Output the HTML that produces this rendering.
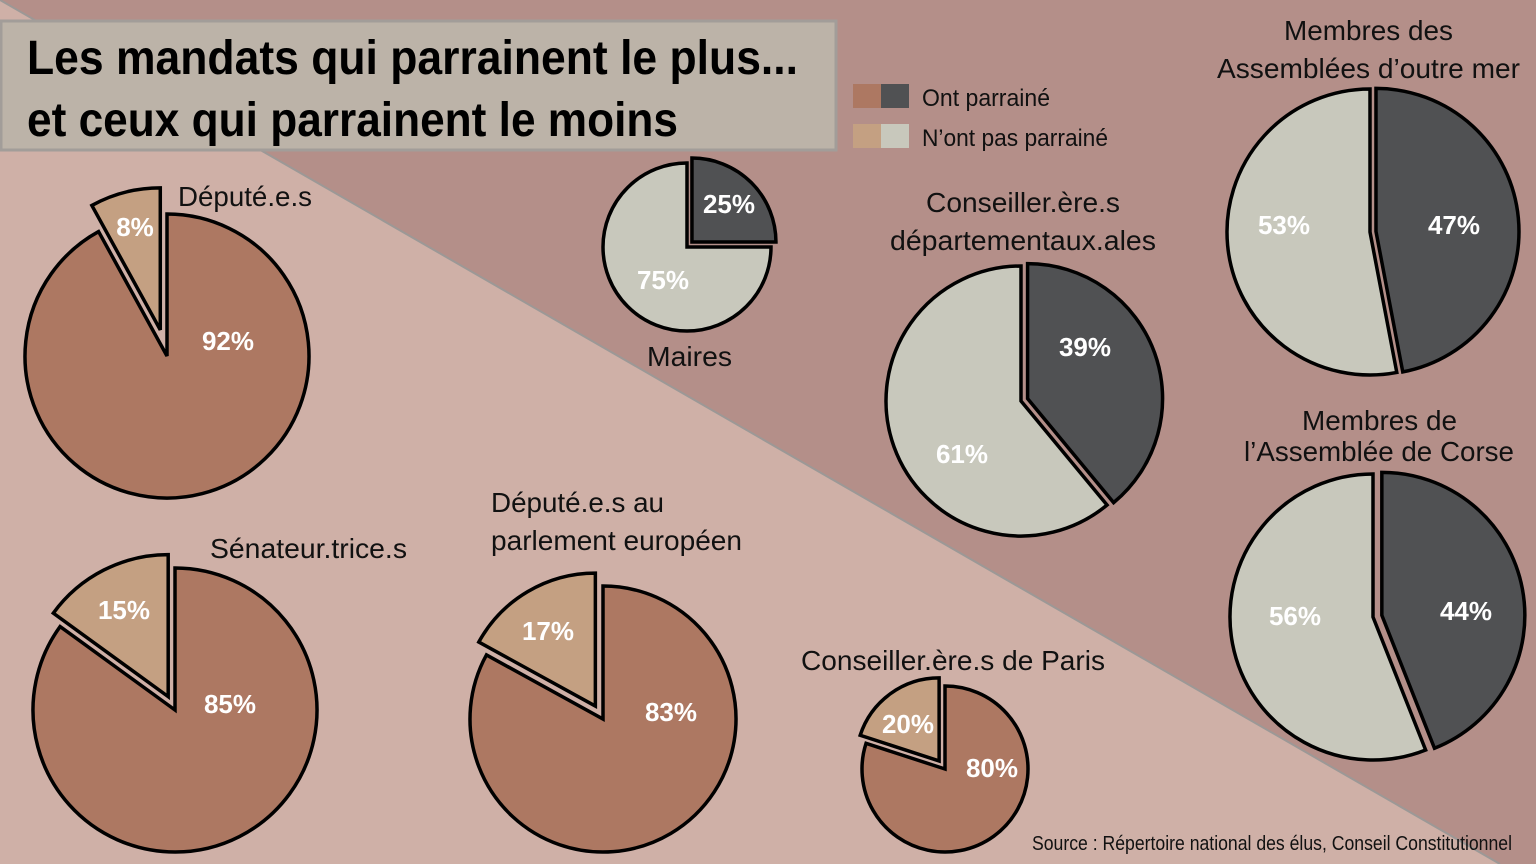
<!DOCTYPE html>
<html><head><meta charset="utf-8"><style>
html,body{margin:0;padding:0;background:#cfb0a7;}
body{width:1536px;height:864px;overflow:hidden;}
svg{display:block;}
svg text{font-family:"Liberation Sans Narrow","Liberation Sans",sans-serif;}
</style></head><body>
<svg id="s" width="1536" height="864" xmlns="http://www.w3.org/2000/svg">
<rect width="1536" height="864" fill="#cfb0a7"/>
<polygon points="0,0 1536,0 1536,864 1500,864" fill="#b48f89"/>
<line x1="0" y1="0" x2="1500" y2="864" stroke="#9c9896" stroke-width="2"/>
<rect x="1" y="21" width="835" height="129" fill="#bcb3a8" stroke="#a29d99" stroke-width="3"/>
<text x="27" y="74" font-size="48" font-weight="bold" fill="#000" textLength="771" lengthAdjust="spacingAndGlyphs">Les mandats qui parrainent le plus...</text>
<text x="27" y="136" font-size="48" font-weight="bold" fill="#000" textLength="651" lengthAdjust="spacingAndGlyphs">et ceux qui parrainent le moins</text>
<rect x="853" y="84" width="28" height="24" fill="#ad7862"/><rect x="881" y="84" width="28" height="24" fill="#505153"/>
<rect x="853" y="124" width="28" height="24" fill="#c4a082"/><rect x="881" y="124" width="28" height="24" fill="#c8c8bc"/>
<text x="922" y="106" font-size="24" fill="#111" textLength="128" lengthAdjust="spacingAndGlyphs">Ont parrainé</text>
<text x="922" y="146" font-size="24" fill="#111" textLength="186" lengthAdjust="spacingAndGlyphs">N’ont pas parrainé</text>
<g id="pies" stroke="#000" stroke-width="3.5"></g>
<g font-size="28" fill="#111">
<text x="178" y="206" textLength="134" lengthAdjust="spacingAndGlyphs">Député.e.s</text>
<text x="210" y="558" textLength="197" lengthAdjust="spacingAndGlyphs">Sénateur.trice.s</text>
<text x="491" y="512" textLength="173" lengthAdjust="spacingAndGlyphs">Député.e.s au</text>
<text x="491" y="550" textLength="251" lengthAdjust="spacingAndGlyphs">parlement européen</text>
<text x="801" y="670" textLength="304" lengthAdjust="spacingAndGlyphs">Conseiller.ère.s de Paris</text>
<text x="647" y="366" textLength="85" lengthAdjust="spacingAndGlyphs">Maires</text>
<text x="926" y="212" textLength="194" lengthAdjust="spacingAndGlyphs">Conseiller.ère.s</text>
<text x="890" y="250" textLength="266" lengthAdjust="spacingAndGlyphs">départementaux.ales</text>
<text x="1284" y="40" textLength="169" lengthAdjust="spacingAndGlyphs">Membres des</text>
<text x="1217" y="78" textLength="303" lengthAdjust="spacingAndGlyphs">Assemblées d’outre mer</text>
<text x="1302" y="430" textLength="155" lengthAdjust="spacingAndGlyphs">Membres de</text>
<text x="1244" y="461" textLength="270" lengthAdjust="spacingAndGlyphs">l’Assemblée de Corse</text>
</g>
<g font-size="26" font-weight="bold" fill="#fff" text-anchor="middle">
<text x="135" y="236">8%</text><text x="228" y="350">92%</text>
<text x="124" y="619">15%</text><text x="230" y="713">85%</text>
<text x="548" y="640">17%</text><text x="671" y="721">83%</text>
<text x="908" y="733">20%</text><text x="992" y="777">80%</text>
<text x="729" y="213">25%</text><text x="663" y="289">75%</text>
<text x="1085" y="356">39%</text><text x="962" y="463">61%</text>
<text x="1284" y="234">53%</text><text x="1454" y="234">47%</text>
<text x="1295" y="625">56%</text><text x="1466" y="620">44%</text>
</g>
<text x="1032" y="850" font-size="20" fill="#111" textLength="480" lengthAdjust="spacingAndGlyphs">Source : Répertoire national des élus, Conseil Constitutionnel</text>
</svg>
<script>
const g=document.getElementById('pies');
function pt(cx,cy,r,a){a=(a-90)*Math.PI/180;return [cx+r*Math.cos(a),cy+r*Math.sin(a)];}
function slice(cx,cy,r,a0,a1,fill){
 const p0=pt(cx,cy,r,a0),p1=pt(cx,cy,r,a1),large=(a1-a0)>180?1:0;
 const e=document.createElementNS('http://www.w3.org/2000/svg','path');
 e.setAttribute('d',`M${cx},${cy}L${p0[0]},${p0[1]}A${r},${r} 0 ${large} 1 ${p1[0]},${p1[1]}Z`);
 e.setAttribute('fill',fill);g.appendChild(e);}
function pie(cx,cy,r,pct,c1,c2,off,explodeFirst){
 const a=pct*3.6;
 if(explodeFirst){
  slice(cx,cy,r,a,360,c2);
  const m=a/2,o=pt(0,0,off,m);slice(cx+o[0],cy+o[1],r,0,a,c1);
 }else{
  slice(cx,cy,r,0,a,c1);
  const m=(a+360)/2,o=pt(0,0,off,m);slice(cx+o[0],cy+o[1],r,a,360,c2);
 }}
const B='#ad7862',T='#c4a082',D='#505153',L='#c8c8bc';
pie(167,356,142,92,B,T,27,false);
pie(175,710,142,85,B,T,15,false);
pie(603,719,133,83,B,T,15,false);
pie(945,769,83,80,B,T,10,false);
pie(687,247,84,25,D,L,7,true);
pie(1021,401,135,39,D,L,7,true);
pie(1370,232,143,47,D,L,6,true);
pie(1373,617,143,44,D,L,9,true);
</script>
</body></html>
